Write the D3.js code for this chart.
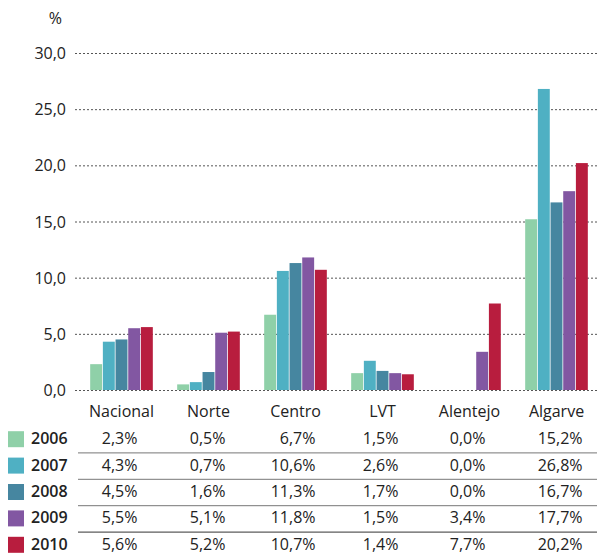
<!DOCTYPE html>
<html>
<head>
<meta charset="utf-8">
<script src="https://cdn.jsdelivr.net/npm/d3@7"></script>
<style>
  body { margin: 0; background: #fff; }
  svg text { font-family: "Open Sans", "Noto Sans", sans-serif; fill: #222; }
</style>
</head>
<body>
<svg id="chart" width="597" height="557"></svg>
<script>
var regions = ['Nacional', 'Norte', 'Centro', 'LVT', 'Alentejo', 'Algarve']
var years = ['2006', '2007', '2008', '2009', '2010']
var colors = ['#8fd0a8', '#4fb0c3', '#4686a0', '#8257a2', '#b81d3e']
var v2006 = [2.3, 0.5, 6.7, 1.5, 0.0, 15.2]
var v2007 = [4.3, 0.7, 10.6, 2.6, 0.0, 26.8]
var v2008 = [4.5, 1.6, 11.3, 1.7, 0.0, 16.7]
var v2009 = [5.5, 5.1, 11.8, 1.5, 3.4, 17.7]
var v2010 = [5.6, 5.2, 10.7, 1.4, 7.7, 20.2]
var yTicks = [0, 5, 10, 15, 20, 25, 30]

var series = [v2006, v2007, v2008, v2009, v2010]
var fmt = function(v) { return v.toFixed(1).replace('.', ',') }

var svg = d3.select('#chart')

var x = d3.scaleBand().domain(regions).range([78, 600]).paddingInner(0.28).paddingOuter(0.14)
var xs = d3.scaleBand().domain(years).range([0, x.bandwidth()]).paddingInner(0.06)
var y = d3.scaleLinear().domain([0, 30]).range([390, 53])

// gridlines
svg.append('g').selectAll('line')
    .data(yTicks)
    .enter()
    .append('line')
    .attr('x1', 75).attr('x2', 597)
    .attr('y1', function(d) { return y(d) + 0.5 })
    .attr('y2', function(d) { return y(d) + 0.5 })
    .attr('stroke', '#555')
    .attr('stroke-width', 1)
    .attr('stroke-dasharray', '2,2')

svg.append('g').selectAll('text')
    .data(yTicks)
    .enter()
    .append('text')
    .attr('x', 66)
    .attr('y', function(d) { return y(d) + 6 })
    .attr('text-anchor', 'end')
    .style('font-size', '16px')
    .text(fmt)

svg.append('text')
    .attr('x', 62).attr('y', 24)
    .attr('text-anchor', 'end')
    .style('font-size', '16px')
    .text('%')

// bars
series.forEach(function(vals, i) {
    svg.append('g').selectAll('rect')
        .data(vals)
        .enter()
        .append('rect')
        .attr('x', function(d, j) { return x(regions[j]) + xs(years[i]) })
        .attr('width', xs.bandwidth())
        .attr('y', function(d) { return y(d) })
        .attr('height', function(d) { return y(0) - y(d) })
        .attr('fill', colors[i])
})

// category labels
svg.append('g').selectAll('text')
    .data(regions)
    .enter()
    .append('text')
    .attr('x', function(d) { return x(d) + x.bandwidth() / 2 })
    .attr('y', 417)
    .attr('text-anchor', 'middle')
    .style('font-size', '16px')
    .text(function(d) { return d })

// table
var rowY = d3.scaleBand().domain(years).range([426, 558])
var colEnd = [16, 17, 20, 16, 16, 26]

years.forEach(function(yr, i) {
    var cy = rowY(yr) + rowY.bandwidth() / 2
    svg.append('rect')
        .attr('x', 8).attr('y', cy - 8)
        .attr('width', 16).attr('height', 16)
        .attr('fill', colors[i])
    svg.append('text')
        .attr('x', 31).attr('y', cy + 5)
        .style('font-size', '16px')
        .style('font-weight', 600)
        .text(yr)
    svg.append('g').selectAll('text')
        .data(series[i])
        .enter()
        .append('text')
        .attr('x', function(d, j) { return x(regions[j]) + x.bandwidth() / 2 + colEnd[j] })
        .attr('y', cy + 5)
        .attr('text-anchor', 'end')
        .style('font-size', '16px')
        .text(function(d) { return fmt(d) + '%' })
    if (i < years.length - 1) {
        svg.append('line')
            .attr('x1', 78).attr('x2', 597)
            .attr('y1', rowY(years[i + 1]) + 0.5)
            .attr('y2', rowY(years[i + 1]) + 0.5)
            .attr('stroke', i === 3 ? '#333' : '#777')
            .attr('stroke-width', 1)
    }
})
</script>
</body>
</html>
